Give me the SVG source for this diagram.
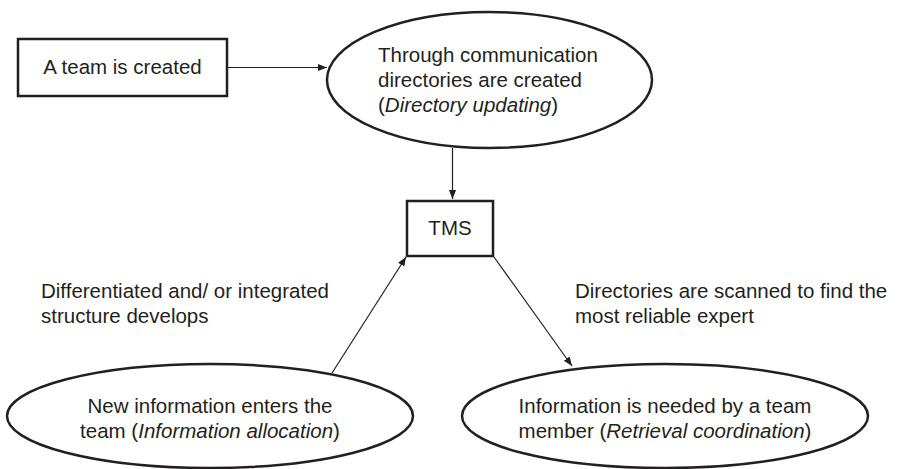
<svg xmlns="http://www.w3.org/2000/svg" width="898" height="469" viewBox="0 0 898 469">
  <style>
    .shape { fill: #ffffff; stroke: #231f20; stroke-width: 2.5; }
    .lbl { font-family: "Liberation Sans", Arial, sans-serif; font-size: 20.5px; fill: #231f20; }
    .mid { text-anchor: middle; }
    .conn { stroke: #231f20; stroke-width: 1.2; fill: none; marker-end: url(#arrow); }
  </style>
  <defs>
    <marker id="arrow" viewBox="0 0 10 10" refX="10" refY="5" markerWidth="9" markerHeight="9" markerUnits="userSpaceOnUse" orient="auto">
      <path d="M0,1 L10,5 L0,9 Z" fill="#231f20"/>
    </marker>
  </defs>
  <rect width="898" height="469" fill="#ffffff"/>

  <g id="connectors">
    <line class="conn" x1="227" y1="67.5" x2="327" y2="67.5"/>
    <line class="conn" x1="452.5" y1="148" x2="452.5" y2="199"/>
    <line class="conn" x1="332" y1="373" x2="406" y2="257"/>
    <line class="conn" x1="494" y1="257" x2="572" y2="366"/>
  </g>

  <g id="team-created">
    <rect class="shape" x="18" y="39" width="209" height="57"/>
    <text class="lbl mid" x="122.5" y="74">A team is created</text>
  </g>

  <g id="directory-updating">
    <ellipse class="shape" cx="489.5" cy="80" rx="162.5" ry="68"/>
    <text class="lbl" x="378" y="62">Through communication</text>
    <text class="lbl" x="378" y="87">directories are created</text>
    <text class="lbl" x="378" y="112">(<tspan font-style="italic">Directory updating</tspan>)</text>
  </g>

  <g id="tms">
    <rect class="shape" x="407" y="201" width="86" height="55"/>
    <text class="lbl mid" x="450" y="235">TMS</text>
  </g>

  <g id="structure-label">
    <text class="lbl" x="41" y="298">Differentiated and/ or integrated</text>
    <text class="lbl" x="41" y="323">structure develops</text>
  </g>

  <g id="scan-label">
    <text class="lbl" x="575" y="298">Directories are scanned to find the</text>
    <text class="lbl" x="575" y="323">most reliable expert</text>
  </g>

  <g id="information-allocation">
    <ellipse class="shape" cx="210" cy="416" rx="203" ry="52"/>
    <text class="lbl mid" x="210" y="413">New information enters the</text>
    <text class="lbl mid" x="210" y="438">team (<tspan font-style="italic">Information allocation</tspan>)</text>
  </g>

  <g id="retrieval-coordination">
    <ellipse class="shape" cx="665" cy="416" rx="203" ry="52"/>
    <text class="lbl mid" x="665" y="413">Information is needed by a team</text>
    <text class="lbl mid" x="665" y="438">member (<tspan font-style="italic">Retrieval coordination</tspan>)</text>
  </g>
</svg>
